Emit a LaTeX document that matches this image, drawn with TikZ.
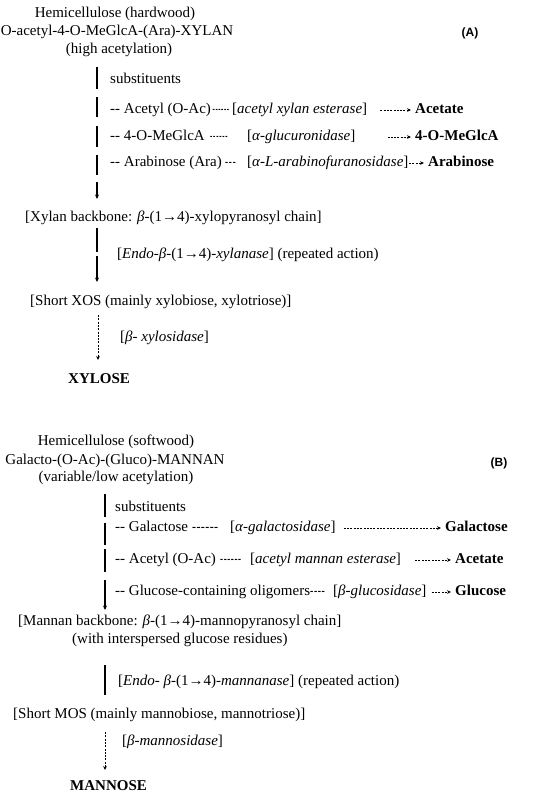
\documentclass[tikz,border=0pt]{standalone}
\usepackage{fontspec}
\setmainfont{Liberation Serif}
\newfontfamily\lsans{Liberation Sans}
\usepackage{graphicx}
\usetikzlibrary{arrows.meta}
% a run of #1 hyphens, squeezed to #2 of their width, each followed by a kern #3
\newcommand\hy[3]{\foreach\i in{1,...,#1}{\scalebox{#2}[1]{-}\kern#3}}
\begin{document}
\begin{tikzpicture}[x=1pt,y=-1pt,
  every node/.style={inner sep=0pt,font=\fontsize{15}{18}\selectfont},
  txt/.style={anchor=west,text height=10.5pt,text depth=3pt},
  ctr/.style={anchor=center,text height=10.5pt,text depth=3pt},
  bf/.style={font=\fontsize{15}{18}\selectfont\bfseries},
  lab/.style={font=\fontsize{12}{14}\selectfont\lsans\bfseries},
  seg/.style={line width=1.2pt},
  tip/.style={-{Stealth[length=4.5pt,width=4pt]}},
  darr/.style={line width=0.85pt,dash pattern=on 2pt off 1.3pt,-{Stealth[length=4pt,width=3.6pt]}}]
\useasboundingbox (0,0) rectangle (550,804);
\fill[white] (0,0) rectangle (550,804);
% ---------- (A) ----------
\node[ctr] (ha1) at (115,14) {Hemicellulose (hardwood)};
\node[ctr] (ha2) at (117,32) {O-acetyl-4-O-MeGlcA-(Ara)-XYLAN};
\node[ctr] (ha3) at (119,50) {(high acetylation)};
\node[lab] (A) at (470,33) {(A)};
\coordinate (pA1) at (97,67);  \coordinate (qA1) at (97,89);
\coordinate (pA2) at (97,97);  \coordinate (qA2) at (97,117);
\coordinate (pA3) at (97,126); \coordinate (qA3) at (97,147);
\coordinate (pA4) at (97,155); \coordinate (qA4) at (97,175);
\coordinate (pA5) at (97,182); \coordinate (qA5) at (97,199);
\draw[seg] (pA1) -- (qA1);
\draw[seg] (pA2) -- (qA2);
\draw[seg] (pA3) -- (qA3);
\draw[seg] (pA4) -- (qA4);
\draw[seg,tip] (pA5) -- (qA5);
\node[txt] (sA) at (110,80) {substituents};
\node[txt] (a1a) at (110,110) {\hy{2}{1}{0pt} Acetyl (O-Ac)};
\node[txt] (a1b) at (212.5,110) {\hy{6}{0.45}{0.6pt}};
\node[txt] (a1c) at (232,110) {[\textit{acetyl xylan esterase}]};
\node[txt,bf] (a1e) at (415,110) {Acetate};
\draw[darr,shorten <=13pt,shorten >=4pt] (a1c.east) -- (a1e.west);
\node[txt] (a2a) at (110,137) {\hy{2}{1}{0pt} 4-O-MeGlcA};
\node[txt] (a2b) at (210,137) {\hy{6}{0.45}{0.8pt}};
\node[txt] (a2c) at (247,137) {[\textit{α-glucuronidase}]};
\node[txt,bf] (a2e) at (415,137) {4-O-MeGlcA};
\draw[darr,shorten <=32pt,shorten >=4pt] (a2c.east) -- (a2e.west);
\node[txt] (a3a) at (110,163) {\hy{2}{1}{0pt} Arabinose (Ara)};
\node[txt] (a3b) at (225,163) {\hy{3}{0.6}{0.8pt}};
\node[txt] (a3c) at (247,163) {[\textit{α-L-arabinofuranosidase}]};
\node[txt,bf] (a3e) at (428,163) {Arabinose};
\draw[darr,shorten <=0.5pt,shorten >=4pt] (a3c.east) -- (a3e.west);
\node[txt] (xb) at (25,218) {[Xylan backbone: \textit{β}-(1→4)-xylopyranosyl chain]};
\coordinate (pB1) at (97,228); \coordinate (qB1) at (97,252);
\coordinate (pB2) at (97,256); \coordinate (qB2) at (97,282);
\draw[seg] (pB1) -- (qB1);
\draw[seg,tip] (pB2) -- (qB2);
\node[txt] (xl) at (117,255) {[\textit{Endo-β-}(1→4)-\textit{xylanase}] (repeated action)};
\node[txt] (xos) at (30,302) {[Short XOS (mainly xylobiose, xylotriose)]};
\coordinate (vC0) at (98,315);
\coordinate (vC1) at (98,360);
\draw[darr] (vC0) -- (vC1);
\node[txt] (xs) at (120,338) {[\textit{β- xylosidase}]};
\node[txt,bf] (xyl) at (68,380) {XYLOSE};
% ---------- (B) ----------
\node[ctr] (hb1) at (116,442) {Hemicellulose (softwood)};
\node[ctr] (hb2) at (115,461) {Galacto-(O-Ac)-(Gluco)-MANNAN};
\node[ctr] (hb3) at (116,478) {(variable/low acetylation)};
\node[lab] (B) at (499,463) {(B)};
\coordinate (sD1) at (105,494); \coordinate (tD1) at (105,517);
\coordinate (pD2) at (105,523); \coordinate (qD2) at (105,545);
\coordinate (pD3) at (105,549); \coordinate (qD3) at (105,572);
\coordinate (pD4) at (105,580); \coordinate (qD4) at (105,610);
\draw[seg] (sD1) -- (tD1);
\draw[seg] (pD2) -- (qD2);
\draw[seg] (pD3) -- (qD3);
\draw[seg,tip] (pD4) -- (qD4);
\node[txt] (sB) at (115,508) {substituents};
\node[txt] (b1a) at (115,528) {\hy{2}{1}{0pt} Galactose};
\node[txt] (b1b) at (192,528) {\hy{6}{0.8}{0.4pt}};
\node[txt] (b1c) at (230,528) {[\textit{α-galactosidase}]};
\node[txt,bf] (b1e) at (445,528) {Galactose};
\draw[darr,shorten <=8pt,shorten >=4pt] (b1c.east) -- (b1e.west);
\node[txt] (b2a) at (115,560) {\hy{2}{1}{0pt} Acetyl (O-Ac)};
\node[txt] (b2b) at (220,560) {\hy{6}{0.6}{0.6pt}};
\node[txt] (b2c) at (250,560) {[\textit{acetyl mannan esterase}]};
\node[txt,bf] (b2e) at (455,560) {Acetate};
\draw[darr,shorten <=14pt,shorten >=4pt] (b2c.east) -- (b2e.west);
\node[txt] (b3a) at (115,592) {\hy{2}{1}{0pt} Glucose-containing oligomers};
\node[txt] (b3b) at (310,592) {\hy{4}{0.65}{0.6pt}};
\node[txt] (b3c) at (333,592) {[\textit{β-glucosidase}]};
\node[txt,bf] (b3e) at (455,592) {Glucose};
\draw[darr,shorten <=5pt,shorten >=4pt] (b3c.east) -- (b3e.west);
\node[txt] (mb) at (18,622) {[Mannan backbone: \textit{β}-(1→4)-mannopyranosyl chain]};
\node[txt] (mb2) at (72,640) {(with interspersed glucose residues)};
\coordinate (vE0) at (105,665);
\coordinate (vE1) at (105,695);
\draw[seg] (vE0) -- (vE1);
\node[txt] (ml) at (118,682) {[\textit{Endo- β-}(1→4)-\textit{mannanase}] (repeated action)};
\node[txt] (mos) at (13,715) {[Short MOS (mainly mannobiose, mannotriose)]};
\coordinate (vF0) at (105,732);
\coordinate (vF1) at (105,770);
\draw[darr] (vF0) -- (vF1);
\node[txt] (ms) at (122,742) {[\textit{β-mannosidase}]};
\node[txt,bf] (man) at (70,787) {MANNOSE};
\end{tikzpicture}
\end{document}
